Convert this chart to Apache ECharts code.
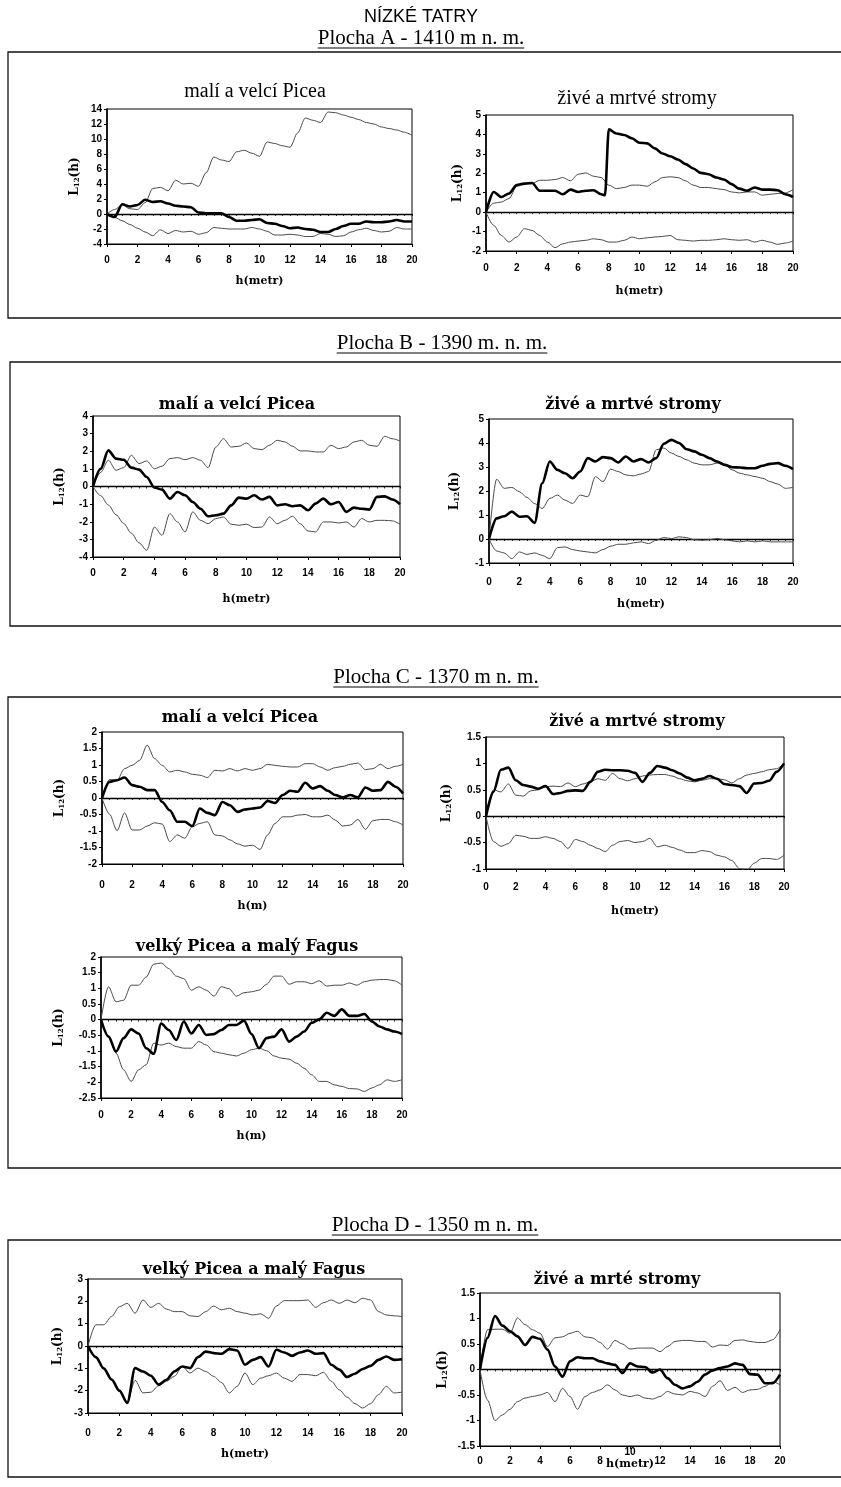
<!DOCTYPE html>
<html><head><meta charset="utf-8">
<script src="https://cdn.jsdelivr.net/npm/echarts@6/dist/echarts.min.js"></script>
<style>html,body{margin:0;padding:0;background:#fff}#c{width:841px;height:1487px}</style>
</head><body><div id="c"></div>
<script>
// ---- DATA ----
const xs = [0,0.5,1,1.5,2,2.5,3,3.5,4,4.5,5,5.5,6,6.5,7,7.5,8,8.5,9,9.5,10,10.5,11,11.5,12,12.5,13,13.5,14,14.5,15,15.5,16,16.5,17,17.5,18,18.5,19,19.5,20];
const xTicks = [0,2,4,6,8,10,12,14,16,18,20];

// Plocha A - malí a velcí Picea
const aL_obs = [0,-0.4,1.3,1.0,1.2,1.9,1.6,1.7,1.4,1.1,1.0,0.9,0.2,0.1,0.1,0.1,-0.4,-0.9,-0.9,-0.8,-0.7,-1.2,-1.3,-1.6,-1.9,-1.8,-2.0,-2.1,-2.4,-2.4,-2.0,-1.6,-1.3,-1.3,-1.0,-1.1,-1.1,-1.0,-0.8,-1.0,-1.0];
const aL_hi = [0,0.6,1.2,0.7,0.6,1.5,3.4,3.55,3.1,4.5,4.0,4.1,3.7,5.5,7.6,7.2,7.0,8.3,8.5,8.1,7.7,9.6,9.4,9.1,8.9,10.8,12.8,12.5,12.2,13.6,13.5,13.2,12.9,12.6,12.2,12.0,11.6,11.4,11.2,10.9,10.5];
const aL_lo = [0,-0.45,-0.9,-1.4,-1.9,-2.4,-2.9,-2.1,-2.6,-2.2,-2.4,-2.3,-2.7,-2.5,-1.8,-1.9,-2.0,-2.0,-2.0,-1.8,-2.0,-2.3,-2.8,-2.8,-2.7,-2.8,-3.0,-3.0,-2.6,-2.7,-3.0,-2.9,-2.4,-2.1,-1.9,-2.2,-2.4,-2.3,-1.8,-2.0,-2.0];
// Plocha A - živé a mrtvé stromy
const aR_obs_x = [0,0.5,1,1.5,2,2.5,3,3.5,4,4.5,5,5.5,6,6.5,7,7.5,7.75,8,8.5,9,9.5,10,10.5,11,11.5,12,12.5,13,13.5,14,14.5,15,15.5,16,16.5,17,17.5,18,18.5,19,19.5,20];
const aR_obs = [0,1.04,0.78,0.96,1.39,1.47,1.5,1.1,1.1,1.1,0.92,1.16,1.04,1.1,1.13,0.92,0.87,4.26,4.05,3.97,3.8,3.57,3.54,3.28,3.02,2.88,2.71,2.47,2.25,2.02,1.95,1.78,1.68,1.44,1.21,1.1,1.27,1.16,1.16,1.13,0.92,0.78];
const aR_hi = [0,0.46,0.52,0.7,1.33,1.44,1.47,1.64,1.64,1.68,1.78,1.61,1.95,2.02,1.85,1.78,1.39,1.21,1.27,1.39,1.39,1.33,1.56,1.78,1.82,1.78,1.61,1.39,1.27,1.27,1.21,1.16,1.04,0.99,1.04,1.04,0.87,0.92,0.96,0.99,1.16];
const aR_lo = [0,-0.68,-1.2,-1.54,-1.28,-0.85,-0.94,-1.2,-1.54,-1.83,-1.63,-1.54,-1.49,-1.45,-1.37,-1.42,-1.54,-1.54,-1.45,-1.28,-1.37,-1.32,-1.28,-1.25,-1.2,-1.42,-1.45,-1.49,-1.45,-1.45,-1.42,-1.37,-1.42,-1.45,-1.42,-1.54,-1.45,-1.54,-1.66,-1.59,-1.49];
// Plocha B
const bL_obs = [0,1.0,2.05,1.58,1.52,1.07,0.96,0.54,-0.06,-0.18,-0.69,-0.31,-0.5,-0.88,-1.26,-1.69,-1.63,-1.54,-1.07,-0.63,-0.69,-0.5,-0.74,-0.59,-1.07,-1.01,-1.12,-1.07,-1.35,-0.97,-0.69,-1.01,-0.88,-1.44,-1.2,-1.26,-1.31,-0.59,-0.56,-0.74,-1.01];
const bL_hi = [0,0.8,1.49,0.92,1.07,1.77,1.3,1.45,1.01,1.15,1.58,1.64,1.52,1.64,1.49,1.07,2.24,2.71,2.24,2.28,2.47,2.15,2.09,2.34,2.62,2.53,2.28,2.02,2.02,1.96,1.96,2.34,2.15,2.24,2.53,2.62,2.34,2.28,2.85,2.71,2.58];
const bL_lo = [0,-0.52,-1.05,-1.6,-2.1,-2.65,-3.2,-3.62,-2.3,-2.77,-1.54,-2.01,-2.58,-1.44,-1.92,-2.11,-1.82,-1.73,-2.14,-2.2,-2.14,-2.33,-2.3,-1.73,-2.11,-1.92,-1.69,-2.11,-2.52,-2.58,-2.01,-2.01,-2.07,-2.01,-2.3,-1.82,-2.01,-1.92,-1.92,-1.95,-2.14];
const bR_obs = [0,0.86,0.95,1.14,0.93,0.95,0.67,2.32,3.23,2.88,2.74,2.53,2.81,3.37,3.23,3.41,3.37,3.19,3.44,3.23,3.33,3.19,3.37,3.97,4.13,4.0,3.74,3.65,3.51,3.37,3.23,3.09,2.99,2.98,2.95,2.95,3.05,3.13,3.16,3.05,2.91];
const bR_hi = [0,2.49,2.11,2.15,1.97,1.73,1.48,1.27,1.69,1.83,1.62,1.48,1.83,1.76,2.6,2.39,2.91,2.81,2.67,2.63,2.71,2.81,3.72,3.79,3.58,3.44,3.3,3.16,3.09,3.09,3.16,3.09,2.88,2.74,2.67,2.6,2.53,2.39,2.29,2.11,2.15];
const bR_lo = [0,-0.5,-0.58,-0.82,-0.54,-0.64,-0.58,-0.68,-0.82,-0.36,-0.33,-0.44,-0.5,-0.54,-0.58,-0.44,-0.3,-0.22,-0.22,-0.16,-0.12,-0.19,-0.05,0.06,0.02,0.09,0.06,-0.03,-0.05,-0.03,0.02,-0.03,-0.08,-0.12,-0.08,-0.12,-0.08,-0.12,-0.12,-0.12,-0.12];
// Plocha C
const cL_obs = [0,0.49,0.54,0.62,0.39,0.34,0.24,0.24,-0.12,-0.37,-0.72,-0.72,-0.85,-0.32,-0.45,-0.52,-0.12,-0.22,-0.42,-0.35,-0.32,-0.29,-0.09,-0.15,0.09,0.22,0.19,0.46,0.29,0.36,0.22,0.09,0.02,0.09,0.02,0.32,0.22,0.24,0.49,0.34,0.14];
const cL_hi = [0,0.56,0.54,0.89,0.99,1.14,1.6,1.19,0.99,0.79,0.84,0.79,0.72,0.69,0.62,0.84,0.82,0.89,0.82,0.89,0.84,0.89,1.02,0.99,0.96,0.94,0.94,1.04,1.04,0.94,0.84,0.92,0.96,1.02,1.06,0.86,0.89,1.02,0.89,0.96,1.02];
const cL_lo = [0,-0.49,-0.99,-0.45,-0.97,-0.97,-0.85,-0.75,-0.79,-1.32,-1.12,-1.22,-0.87,-0.77,-0.72,-1.12,-1.15,-1.27,-1.39,-1.46,-1.43,-1.56,-1.12,-0.77,-0.57,-0.57,-0.52,-0.5,-0.57,-0.57,-0.52,-0.67,-0.85,-0.82,-0.65,-0.95,-0.69,-0.65,-0.65,-0.72,-0.82];
const cR_obs = [0,0.46,0.88,0.92,0.68,0.59,0.56,0.52,0.57,0.42,0.44,0.48,0.49,0.48,0.65,0.84,0.88,0.87,0.87,0.86,0.82,0.65,0.82,0.95,0.92,0.87,0.81,0.73,0.68,0.71,0.76,0.71,0.61,0.59,0.57,0.44,0.62,0.63,0.67,0.84,1.0];
const cR_hi = [0,0.5,0.46,0.61,0.4,0.38,0.48,0.5,0.56,0.57,0.56,0.63,0.56,0.61,0.65,0.71,0.68,0.81,0.71,0.67,0.71,0.76,0.78,0.79,0.79,0.76,0.71,0.67,0.65,0.68,0.71,0.71,0.69,0.63,0.71,0.78,0.81,0.84,0.88,0.9,1.0];
const cR_lo = [0,-0.48,-0.57,-0.52,-0.36,-0.38,-0.42,-0.42,-0.39,-0.42,-0.48,-0.61,-0.44,-0.48,-0.55,-0.61,-0.67,-0.55,-0.48,-0.46,-0.5,-0.48,-0.42,-0.58,-0.55,-0.59,-0.64,-0.69,-0.69,-0.65,-0.67,-0.74,-0.77,-0.84,-0.99,-1.03,-0.89,-0.8,-0.8,-0.82,-0.74];
const cB_obs = [0,-0.54,-1.02,-0.59,-0.31,-0.44,-0.91,-1.09,-0.12,-0.33,-0.65,-0.06,-0.44,-0.17,-0.49,-0.46,-0.33,-0.17,-0.17,-0.03,-0.46,-0.91,-0.59,-0.54,-0.31,-0.7,-0.54,-0.38,-0.1,0.01,0.22,0.12,0.33,0.12,0.12,0.18,-0.06,-0.22,-0.31,-0.38,-0.46];
const cB_hi = [0,1.05,0.57,0.62,1.1,1.1,1.36,1.77,1.81,1.63,1.39,1.31,0.94,1.05,0.94,0.75,1.05,0.99,0.75,0.86,0.89,0.94,1.13,1.39,1.39,1.13,1.21,1.21,1.15,1.24,1.07,1.1,1.1,1.17,1.1,1.21,1.26,1.28,1.28,1.24,1.1];
const cB_lo = [0,-0.54,-1.07,-1.6,-1.97,-1.6,-1.44,-0.75,-0.81,-0.75,-0.86,-0.91,-0.91,-0.7,-0.81,-1.02,-1.07,-1.12,-1.16,-1.07,-0.96,-0.91,-0.99,-1.16,-1.23,-1.26,-1.39,-1.55,-1.76,-1.97,-1.97,-2.08,-2.13,-2.2,-2.21,-2.29,-2.18,-2.08,-1.92,-1.97,-1.92];
// Plocha D
const dL_obs = [0,-0.5,-1.0,-1.5,-2.0,-2.55,-0.99,-1.14,-1.33,-1.73,-1.51,-1.14,-0.92,-0.99,-0.5,-0.25,-0.32,-0.35,-0.14,-0.2,-0.84,-0.62,-0.5,-0.92,-0.17,-0.29,-0.44,-0.29,-0.2,-0.35,-0.32,-0.84,-1.06,-1.39,-1.24,-1.03,-0.89,-0.62,-0.47,-0.62,-0.59];
const dL_hi = [0,0.95,0.95,1.32,1.76,1.91,1.47,2.06,1.73,1.91,1.65,1.54,1.54,1.35,1.32,1.54,1.79,1.62,1.69,1.54,1.47,1.39,1.44,1.24,1.79,2.03,2.03,2.03,2.06,1.73,1.94,2.06,1.91,2.06,1.94,2.14,2.06,1.54,1.39,1.35,1.32];
const dL_lo = [0,-0.5,-1.0,-1.5,-2.0,-2.5,-1.54,-2.1,-2.07,-1.78,-1.58,-1.36,-0.92,-1.21,-0.99,-1.14,-1.36,-1.63,-2.1,-1.81,-1.21,-1.73,-1.44,-1.33,-1.21,-1.44,-1.58,-1.28,-1.28,-1.33,-1.18,-1.58,-1.96,-2.29,-2.58,-2.78,-2.58,-2.18,-1.81,-2.1,-2.07];
const dR_obs = [0,0.62,1.05,0.86,0.75,0.65,0.48,0.64,0.6,0.39,0.06,-0.14,0.16,0.24,0.22,0.22,0.16,0.12,0.09,-0.07,0.12,0.06,0.05,-0.06,0.0,-0.17,-0.3,-0.37,-0.33,-0.24,-0.1,-0.02,0.03,0.06,0.12,0.09,-0.09,-0.1,-0.27,-0.27,-0.1];
const dR_hi = [0,0.78,0.79,0.79,0.71,1.01,0.88,0.78,0.71,0.45,0.62,0.64,0.71,0.75,0.64,0.62,0.53,0.4,0.57,0.5,0.4,0.42,0.42,0.42,0.35,0.45,0.55,0.57,0.57,0.55,0.55,0.44,0.48,0.47,0.57,0.58,0.55,0.53,0.53,0.58,0.78];
const dR_lo = [0,-0.6,-1.0,-0.89,-0.78,-0.63,-0.56,-0.53,-0.5,-0.45,-0.63,-0.37,-0.53,-0.78,-0.53,-0.45,-0.4,-0.3,-0.4,-0.5,-0.53,-0.5,-0.56,-0.58,-0.53,-0.43,-0.48,-0.5,-0.43,-0.46,-0.53,-0.33,-0.22,-0.41,-0.35,-0.45,-0.4,-0.39,-0.33,-0.24,-0.3];

// Texts
const mainTitle = 'NÍZKÉ TATRY';
const sectionTitles = ['Plocha A - 1410 m n. m.','Plocha B - 1390 m. n. m.','Plocha C - 1370 m n. m.','Plocha D - 1350 m n. m.'];

// ---- LAYOUT ----
const SERIF_B = 'DejaVu Serif';
const PANELS = [
  {g:[107,109,305,135], y:[-4,14,2], t:'malí a velcí Picea', tp:[255,92], tA:true, xn:'h(metr)', xg:32, yg:26, lm:11, s:[[xs,aL_lo],[xs,aL_hi],[xs,aL_obs]]},
  {g:[486,115,307,136], y:[-2,5,1], t:'živé a mrtvé stromy', tp:[637,99], tA:true, xn:'h(metr)', xg:35, yg:22, lm:12, s:[[xs,aR_lo],[xs,aR_hi],[aR_obs_x,aR_obs]]},
  {g:[93,416,307,141], y:[-4,4,1], t:'malí a velcí Picea', tp:[237,405], xn:'h(metr)', xg:37, yg:27, lm:11, s:[[xs,bL_lo],[xs,bL_hi],[xs,bL_obs]]},
  {g:[489,419,304,144], y:[-1,5,1], t:'živé a mrtvé stromy', tp:[633,405], xn:'h(metr)', xg:36, yg:28, lm:14, s:[[xs,bR_lo],[xs,bR_hi],[xs,bR_obs]]},
  {g:[102,732,301,132], y:[-2,2,0.5], t:'malí a velcí Picea', tp:[240,718], xn:'h(m)', xg:37, yg:36, lm:16, s:[[xs,cL_lo],[xs,cL_hi],[xs,cL_obs]]},
  {g:[486,737,298,132], y:[-1,1.5,0.5], t:'živé a mrtvé stromy', tp:[637,722], xn:'h(metr)', xg:37, yg:33, lm:13, s:[[xs,cR_lo],[xs,cR_hi],[xs,cR_obs]]},
  {g:[101,957,301,141], y:[-2.5,2,0.5], t:'velký Picea a malý Fagus', tp:[247,947], xn:'h(m)', xg:33, yg:36, lm:12, s:[[xs,cB_lo],[xs,cB_hi],[xs,cB_obs]]},
  {g:[88,1279,314,134], y:[-3,3,1], t:'velký Picea a malý Fagus', tp:[254,1270], xn:'h(metr)', xg:36, yg:24, lm:15, s:[[xs,dL_lo],[xs,dL_hi],[xs,dL_obs]]},
  {g:[480,1293,300,153], y:[-1.5,1.5,0.5], t:'živé a mrté stromy', tp:[617,1280], xn:'h(metr)', mid10:true, xg:1, yg:31, lm:10, s:[[xs,dR_lo],[xs,dR_hi],[xs,dR_obs]]}
];
const BOXES = [[8,52,266],[10,362,264],[8,697,471],[8,1240,237]];
const HEAD_POS = [[421,38],[442,343],[436,677],[435,1225]];

const chart = echarts.init(document.getElementById('c'), null, {renderer:'canvas'});
const grids=[], xAxes=[], yAxes=[], series=[], graphics=[];
const tickLbl = {fontSize:10, fontWeight:'bold', color:'#000', fontFamily:'Liberation Sans'};

PANELS.forEach((p,i)=>{
  grids.push({left:p.g[0], top:p.g[1], width:p.g[2], height:p.g[3], show:true, borderColor:'#000', borderWidth:1, backgroundColor:'transparent'});
  const xName = p.mid10 ? '{t|10}\n{n|' + p.xn + '}' : p.xn;
  xAxes.push({type:'value', gridIndex:i, min:0, max:20, interval:2, position:'bottom',
    axisLine:{onZero:false, lineStyle:{color:'#000', width:1}},
    axisTick:{show:true, length:3, lineStyle:{color:'#000'}},
    axisLabel:Object.assign({margin:p.lm, formatter: v => (p.mid10 && v===10) ? '' : String(v)}, tickLbl),
    splitLine:{show:false},
    name:xName, nameLocation:'middle', nameGap:p.xg, nameMoveOverlap:false,
    nameTextStyle:{fontFamily:SERIF_B, fontWeight:'bold', fontSize:11, color:'#000',
      rich:{t:{fontSize:10, fontWeight:'bold', fontFamily:'Liberation Sans', color:'#000', lineHeight:11},
            n:{fontFamily:SERIF_B, fontWeight:'bold', fontSize:11, color:'#000', lineHeight:13}}}
  });
  xAxes.push({type:'value', gridIndex:i, min:0, max:20, interval:0.5, position:'bottom',
    axisLine:{onZero:true, lineStyle:{color:'#000', width:1.3}},
    axisTick:{show:true, length:2, lineStyle:{color:'#000', width:0.8}},
    axisLabel:{show:false}, splitLine:{show:false}
  });
  yAxes.push({type:'value', gridIndex:i, min:p.y[0], max:p.y[1], interval:p.y[2],
    axisLine:{show:true, onZero:false, lineStyle:{color:'#000', width:1.6}},
    axisTick:{show:true, length:3, lineStyle:{color:'#000'}},
    axisLabel:Object.assign({margin:5}, tickLbl),
    splitLine:{show:false},
    name:'{a|L}{b|12}{a|(h)}', nameLocation:'middle', nameRotate:90, nameGap:p.yg, nameMoveOverlap:false,
    nameTextStyle:{color:'#000', rich:{
      a:{fontFamily:SERIF_B, fontWeight:'bold', fontSize:12, color:'#000', verticalAlign:'bottom'},
      b:{fontFamily:SERIF_B, fontWeight:'bold', fontSize:7, color:'#000', verticalAlign:'bottom'}}}
  });
  p.s.forEach((s,k)=>{
    const xv = s[0], yv = s[1];
    const thick = k===2;
    series.push({type:'line', xAxisIndex:2*i, yAxisIndex:i,
      data: yv.map((v,j)=>[xv[j], v]),
      showSymbol:false, smooth:0.3, smoothMonotone:'x', clip:true, z: thick?5:3,
      lineStyle:{color: thick?'#000':'#4a4a4a', width: thick?2.6:1},
      emphasis:{disabled:true}, silent:true
    });
  });
  graphics.push({type:'text', x:p.tp[0], y:p.tp[1], z:50, style:{
    text:p.t, align:'center', verticalAlign:'middle', fill:'#000',
    font: p.tA ? '20px "Liberation Serif", serif' : 'bold 16px "DejaVu Serif", serif'}});
});

// boxes
BOXES.forEach(b=>{
  graphics.push({type:'rect', z:1, shape:{x:b[0], y:b[1], width:860, height:b[2]}, style:{fill:'none', stroke:'#111', lineWidth:1.3}});
});
// headers
const mctx = document.createElement('canvas').getContext('2d');
const headFont = '21px "Liberation Serif", serif';
graphics.push({type:'text', x:421, y:17, z:50, style:{text:mainTitle, align:'center', verticalAlign:'middle', fill:'#000', font:'18px "Liberation Sans Narrow", "Liberation Sans", sans-serif'}});
sectionTitles.forEach((t,i)=>{
  const [cx,cy] = HEAD_POS[i];
  mctx.font = headFont;
  const w = mctx.measureText(t).width;
  graphics.push({type:'text', x:cx, y:cy, z:50, style:{text:t, align:'center', verticalAlign:'middle', fill:'#000', font:headFont}});
  graphics.push({type:'line', z:50, shape:{x1:cx-w/2, y1:cy+10, x2:cx+w/2, y2:cy+10}, style:{stroke:'#000', lineWidth:1}});
});

chart.setOption({
  animation:false,
  backgroundColor:'#fff',
  grid:grids, xAxis:xAxes, yAxis:yAxes, series:series,
  graphic:{elements:graphics}
});
</script></body></html>
